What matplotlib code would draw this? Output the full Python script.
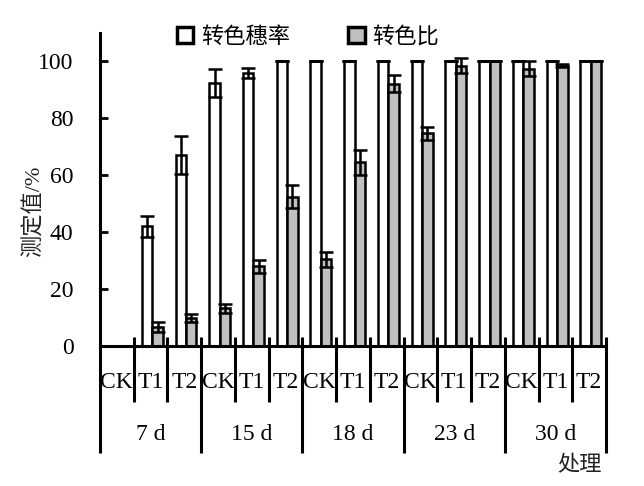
import matplotlib
matplotlib.use("Agg")
import matplotlib.pyplot as plt
import matplotlib.transforms as mtransforms
from matplotlib.patches import Patch
import numpy as np

plt.rcParams['font.family'] = ['Liberation Serif', 'Noto Sans CJK SC', 'DejaVu Sans']

# ---- data ----
groups = ['7 d', '15 d', '18 d', '23 d', '30 d']
treatments = ['CK', 'T1', 'T2']
series_names = ['转色穗率', '转色比']
rate = [0, 42, 67, 92.5, 96, 100, 100, 100, 100, 100, 100, 100, 100, 100, 100]
rate_err = [0, 3.8, 6.7, 5, 1.8, 0, 0, 0, 0, 0, 0, 0, 0, 0, 0]
ratio = [0, 6.7, 10, 13.3, 28, 52.5, 30.5, 64.5, 92.2, 74.7, 98.5, 100, 97.5, 98.5, 100]
ratio_err = [0, 1.8, 1.4, 1.6, 2.2, 4, 2.7, 4.5, 3, 2.4, 2.6, 0, 2.5, 0.5, 0]
yticks = [0, 20, 40, 60, 80, 100]
ylabel = '测定值/%'
xlabel = '处理'

fig = plt.figure(figsize=(6.44, 4.86), dpi=100)
ax = fig.add_axes([100/644, 1-346/486, 506/644, 313/486])

n = len(rate)
x = np.arange(n)
w = 0.31
shift = 0.05
lw = 1.8
ekw = dict(fmt='none', ecolor='black', elinewidth=1.8, capsize=5, capthick=1.8, zorder=3)

ax.bar(x - w/2 + shift, rate, w, color='white', edgecolor='black', linewidth=lw, zorder=2)
ax.bar(x + w/2 + shift, ratio, w, color='#c0c0c0', edgecolor='black', linewidth=lw, zorder=2)
ax.errorbar(x - w/2 + shift, rate, yerr=rate_err, **ekw)
ax.errorbar(x + w/2 + shift, ratio, yerr=ratio_err, **ekw)

ax.set_xlim(-0.5, n - 0.5)
ax.set_ylim(0, 110)
ax.set_yticks(yticks)
ax.set_yticklabels([str(v) for v in yticks], fontsize=17)
ax.tick_params(axis='y', direction='in', length=6, width=2, pad=19)
ax.set_xticks([])

for s in ['top', 'right']:
    ax.spines[s].set_visible(False)
ax.spines['left'].set_linewidth(2.2)
ax.spines['bottom'].set_linewidth(2.2)

trans = mtransforms.blended_transform_factory(ax.transData, ax.transAxes)
# separators
for i in range(n + 1):
    xb = i - 0.5
    bottom = -0.342 if i % 3 == 0 else -0.179
    top = 0.0 if i == 0 else 0.029
    ax.plot([xb, xb], [top, bottom], color='black', lw=2.2, transform=trans,
            clip_on=False, solid_capstyle='butt', zorder=4)

# category labels
for i in range(n):
    ax.text(i, -0.118, treatments[i % 3], transform=trans, ha='center', va='center',
            fontsize=17)
for g, name in enumerate(groups):
    ax.text(3*g + 1, -0.284, name, transform=trans, ha='center', va='center', fontsize=17)

ax.text(13.73, -0.385, xlabel, transform=trans, ha='center', va='center',
        fontsize=16, color='#222222')

ax.set_ylabel(ylabel, fontsize=16, color='#222222')
ax.yaxis.set_label_coords(-0.11, 0.43)

handles = [Patch(facecolor='white', edgecolor='black', linewidth=2.5),
           Patch(facecolor='#c0c0c0', edgecolor='black', linewidth=2.5)]
fig.legend(handles, series_names, loc='center', bbox_to_anchor=(308/644, 1-37/486),
           ncol=2, frameon=False, fontsize=16, handlelength=0.75, handleheight=0.75,
           handletextpad=0.35, columnspacing=2.6, borderpad=0)

fig.savefig('out.png', dpi=100)
